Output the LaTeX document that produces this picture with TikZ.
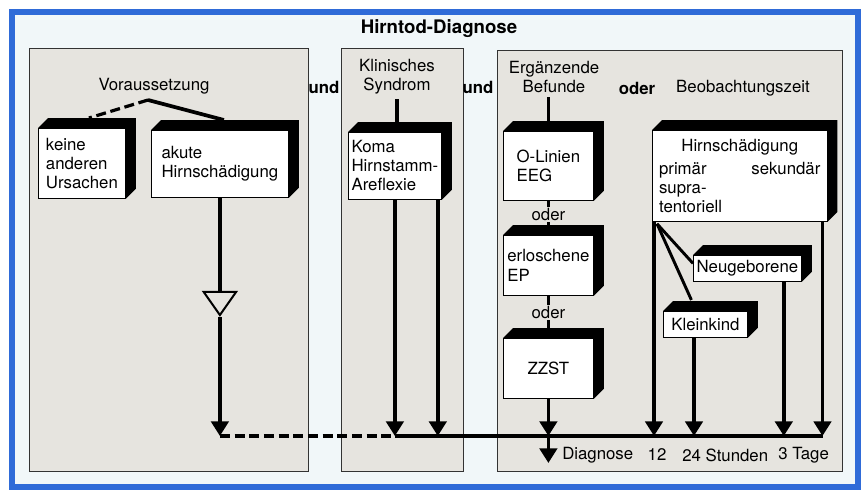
\documentclass[tikz,border=0pt]{standalone}
\usepackage{fontspec}
\setmainfont{TeX Gyre Heros}
\usetikzlibrary{arrows.meta,positioning}
\definecolor{frameblue}{HTML}{2F6BD8}
\definecolor{paper}{HTML}{F1F7F9}
\definecolor{panel}{HTML}{E6E4DF}

\begin{document}
\begin{tikzpicture}[x=0.75pt, y=-0.75pt, font=\fontsize{12.6}{14.3}\selectfont,
  >={Triangle[width=13pt,length=11pt]},
  link/.style={line width=2.8pt},
  dashlink/.style={line width=2.4pt, dash pattern=on 7.5pt off 3.5pt},
  panelbox/.style={fill=panel, draw=black!80, line width=0.6pt},
  blockbox/.style={draw, line width=0.6pt, fill=white, anchor=north west, align=left, inner sep=0pt},
  strong/.style={font=\fontsize{12.6}{14.3}\selectfont\bfseries},
  label/.style={inner sep=0pt}]
  \useasboundingbox (0,0) rectangle (867,489);
  % frame and panels
  \fill[white] (0,0) rectangle (867,489);
  \fill[paper] (12,12) rectangle (858,487);
  \draw[frameblue, line width=4.5pt] (12,12) rectangle (858,487);
  \draw[panelbox] (29,48) rectangle (308,471);
  \draw[panelbox] (341,48) rectangle (463,471);
  \draw[panelbox] (497,50) rectangle (842,471);

  % headings
  \node[font=\fontsize{14}{16}\selectfont\bfseries] (title) at (439,29) {Hirntod-Diagnose};
  \node (vor) at (154,86) {Voraussetzung};
  \node[strong] (und1) at (324,87) {und};
  \node[align=center] (klin) at (397,77) {Klinisches\\Syndrom};
  \node[strong] (und2) at (478,87) {und};
  \node[align=center] (erg) at (554,77) {Ergänzende\\Befunde};
  \node[strong] (oder) at (637,88) {oder};
  \node (beob) at (743,88) {Beobachtungszeit};
  \coordinate (apex) at (148,100);
  \coordinate (base) at (0,436);

  % boxes
  \node[blockbox, minimum width=65.25pt, minimum height=52.5pt] (keine) at (38,128) {keine\\anderen\\Ursachen};
  \node[blockbox, minimum width=102.75pt, minimum height=50.25pt] (akut) at (151,130) {akute\\Hirnschädigung};
  \node[blockbox, minimum width=69.75pt, minimum height=50.25pt] (koma) at (348,132) {Koma\\Hirnstamm-\\Areflexie};
  \node[blockbox, minimum width=67.5pt, minimum height=51.75pt] (eeg) at (503,131) {O-Linien\\EEG};
  \node[blockbox, minimum width=67.5pt, minimum height=45pt] (ep) at (503,235) {erloschene\\EP};
  \node[blockbox, minimum width=67.5pt, minimum height=45pt] (zzst) at (503,338) {ZZST};
  \node[blockbox, text width=121pt, inner xsep=5pt, minimum height=68.25pt] (hirn) at (652,130)
    {\null\hfill Hirnschädigung\hfill\null\\[3pt] primär\hfill sekundär\\ supra-\\ tentoriell};
  \node[blockbox, minimum width=81pt, minimum height=19.5pt] (neu) at (693,255) {Neugeborene};
  \node[blockbox, minimum width=63pt, minimum height=19.5pt] (klein) at (663,311) {Kleinkind};
  \foreach \b in {keine,akut,koma,eeg,ep,zzst,hirn,neu,klein}
    \fill (\b.north west) -- ++(10,-10) -- ([shift={(10,-10)}]\b.north east)
      -- ([shift={(10,-10)}]\b.south east) -- (\b.south east) -- (\b.north east) -- cycle;

  % Voraussetzung
  \draw[dashlink] (apex) -- ([shift={(7,-10)}]keine.north);
  \draw[link] (apex) -- ([shift={(4,-10)}]akut.north);
  \coordinate (gate) at ([shift={(0,119)}]akut.south);
  \draw[link, -{Triangle[open, width=27pt, length=19.5pt, line width=1.5pt]}] (akut.south) -- (gate);
  \draw[link, ->] (gate) -- (akut.south |- base);
  \draw[dashlink] (akut.south |- base) -- (koma.south |- base);

  % Klinisches Syndrom
  \draw[link] (klin.south) -- (klin.south |- koma.north);
  \coordinate (komaR) at ([shift={(-4,0)}]koma.south east);
  \draw[link, ->] (koma.south) -- (koma.south |- base);
  \draw[link, ->] (komaR) -- (komaR |- base);

  % Ergaenzende Befunde
  \draw[link] (eeg.north |- erg.south) -- (eeg.north);
  \draw[line width=2pt] (eeg.south) -- node[pos=0.4, fill=panel, inner sep=1pt] (oder1) {oder} (ep.north);
  \draw[line width=2pt] (ep.south) -- node[pos=0.4, fill=panel, inner sep=1pt] (oder2) {oder} (zzst.north);
  \coordinate (bz) at (zzst.south |- base);
  \coordinate (diagend) at ([shift={(0,27)}]bz);
  \draw[link, ->] (zzst.south) -- (bz);
  \draw[link, ->] (bz) -- (diagend);

  % Beobachtungszeit
  \coordinate (hirnL) at ([shift={(2,0)}]hirn.south west);
  \coordinate (hirnR) at ([shift={(-5,0)}]hirn.south east);
  \coordinate (fork) at ([shift={(5,2)}]hirn.south west);
  \coordinate (neuB) at ([shift={(-18,0)}]neu.south east);
  \coordinate (kleinB) at ([shift={(31,0)}]klein.south west);
  \draw[line width=2.2pt] (fork) -- ([shift={(0,-5)}]neu.west);
  \draw[line width=2.2pt] (fork) -- ([shift={(-14,-11)}]klein.north);
  \draw[link, ->] (hirnL) -- (hirnL |- base);
  \draw[link, ->] (kleinB) -- (kleinB |- base);
  \draw[link, ->] (neuB) -- (neuB |- base);
  \draw[link, ->] (hirnR) -- (hirnR |- base);
  \draw[link] (koma.south |- base) -- ([shift={(1,0)}]hirnR |- base);

  % time axis
  \node[label, anchor=west] (diag) at (562,455) {Diagnose};
  \node[label] (h12) at (657,455) {12};
  \node[label, anchor=west] (h24) at (682,455) {24 Stunden};
  \node[label, anchor=west] (d3) at (778,455) {3 Tage};
\end{tikzpicture}
\end{document}
